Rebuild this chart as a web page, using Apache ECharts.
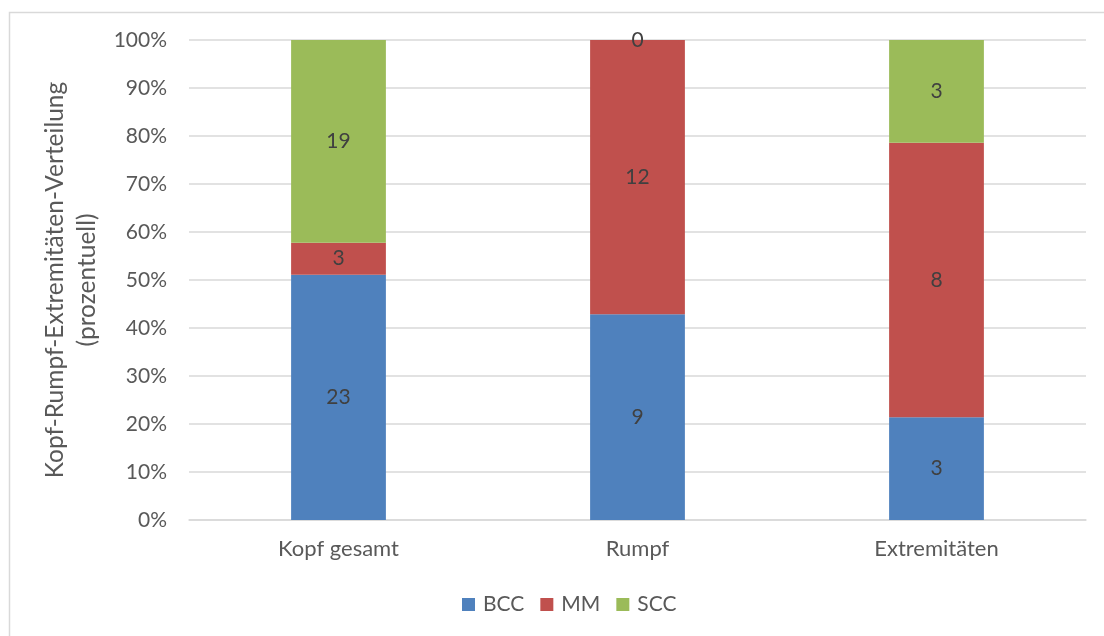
<!DOCTYPE html>
<html>
<head>
<meta charset="utf-8">
<script src="https://cdn.jsdelivr.net/npm/echarts@6/dist/echarts.min.js"></script>
<style>
  html, body { margin: 0; padding: 0; background: #fff; }
  #chart { width: 1104px; height: 636px; }
</style>
</head>
<body>
<div id="chart"></div>
<script>
// Counts per body region and tumour type
const categories = ['Kopf gesamt', 'Rumpf', 'Extremitäten'];
const bccCounts = [23, 9, 3];
const mmCounts = [3, 12, 8];
const sccCounts = [19, 0, 3];
const yTickLabels = ['0%', '10%', '20%', '30%', '40%', '50%', '60%', '70%', '80%', '90%', '100%'];

const totals = categories.map((_, i) => bccCounts[i] + mmCounts[i] + sccCounts[i]);
const toShare = arr => arr.map((v, i) => ({ value: v / totals[i] * 100, count: v }));

const FONT = 'Lato, "Open Sans", sans-serif';
const TEXT = '#595959';

const label = {
  show: true,
  position: 'inside',
  color: '#404040',
  fontFamily: FONT,
  fontSize: 21,
  formatter: p => String(p.data.count)
};

function series(name, counts, color) {
  return {
    name, type: 'bar', stack: 'total', barWidth: '31.7%',
    itemStyle: { color },
    label,
    emphasis: { disabled: true },
    data: toShare(counts)
  };
}

const chart = echarts.init(document.getElementById('chart'), null, { renderer: 'canvas' });
chart.setOption({
  animation: false,
  backgroundColor: '#fff',
  graphic: [{
    type: 'rect', left: 7, top: 10, silent: true,
    shape: { width: 1110, height: 640 },
    style: { fill: 'none', stroke: '#d9d9d9', lineWidth: 1.5 }
  }],
  grid: { left: 189, right: 18, top: 40, bottom: 116 },
  legend: {
    bottom: 16, left: 457,
    itemWidth: 13, itemHeight: 13, itemGap: 16,
    icon: 'rect',
    textStyle: { color: TEXT, fontFamily: FONT, fontSize: 21, padding: [0, 0, 0, 3] },
    data: ['BCC', 'MM', 'SCC']
  },
  xAxis: {
    type: 'category', data: categories,
    axisLine: { lineStyle: { color: '#d9d9d9', width: 1.5 } },
    axisTick: { show: false },
    axisLabel: { color: TEXT, fontFamily: FONT, fontSize: 22, margin: 18 }
  },
  yAxis: {
    type: 'value', min: 0, max: 100, interval: 10,
    name: 'Kopf-Rumpf-Extremitäten-Verteilung\n(prozentuell)',
    nameLocation: 'middle', nameGap: 76,
    nameTextStyle: { color: TEXT, fontFamily: FONT, fontSize: 24.5, lineHeight: 32 },
    axisLine: { show: false },
    axisTick: { show: false },
    splitLine: { lineStyle: { color: '#d9d9d9', width: 1.5 } },
    axisLabel: {
      color: TEXT, fontFamily: FONT, fontSize: 21, margin: 22,
      formatter: v => yTickLabels[Math.round(v / 10)]
    }
  },
  series: [
    series('BCC', bccCounts, '#4F81BD'),
    series('MM', mmCounts, '#C0504D'),
    series('SCC', sccCounts, '#9BBB59')
  ]
});
</script>
</body>
</html>
